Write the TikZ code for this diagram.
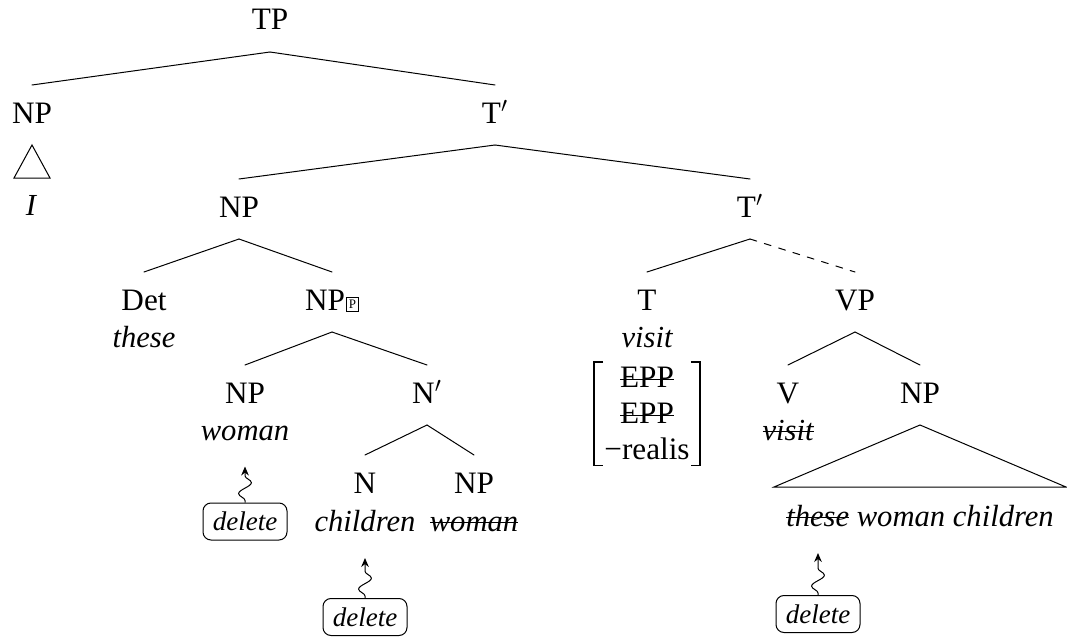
\documentclass[tikz,border=0pt]{standalone}
\usepackage{fontspec}
\setmainfont{Liberation Serif}
\usetikzlibrary{decorations.pathmorphing,arrows.meta}

% struck-through text
\newsavebox\strikebox
\newcommand\strike[1]{\sbox\strikebox{#1}\rlap{\usebox\strikebox}\rule[0.55ex]{\wd\strikebox}{0.45pt}}
% small framed P after a phrase label
\newcommand\boxedp{\raisebox{0.6pt}{\setlength\fboxsep{1pt}\setlength\fboxrule{0.4pt}\fbox{\fontsize{6.5}{7}\selectfont P}}}
% branch from a mother label down to a daughter label
\newcommand\treeedge[3][]{\draw[branch,#1] ([yshift=-11pt]#2.base) -- ([yshift=19pt]#3.base);}

\tikzset{
  lab/.style={inner sep=0pt, anchor=base, font=\fontsize{15.6}{18}\selectfont},
  word/.style={lab, font=\fontsize{15.3}{18}\selectfont\itshape},
  branch/.style={line width=0.5pt, line cap=round},
  elided/.style={dash pattern=on 3.5pt off 4pt},
  bracket/.style={line width=0.6pt},
  delbox/.style={draw, line width=0.5pt, rounded corners=4pt, minimum width=42pt,
    minimum height=18.5pt, inner sep=0pt, font=\fontsize{13.5}{15}\selectfont\itshape},
  delarrow/.style={line width=0.5pt, decorate,
    decoration={snake, amplitude=3.2pt, segment length=11pt, pre length=1pt, post length=4pt},
    -{Stealth[length=4.5pt,width=3.8pt]}}
}

\begin{document}
\begin{tikzpicture}[x=0.5pt,y=-0.5pt]
\useasboundingbox (0,0) rectangle (1067,637);

% category labels
\node[lab] (tp)  at (270,30)  {TP};
\node[lab] (np1) at (32,123)  {NP};
\node[lab] (tb1) at (495,123) {T$'$};
\node[lab] (np2) at (239,217) {NP};
\node[lab] (tb2) at (750,217) {T$'$};
\node[lab] (det) at (144,310) {Det};
\node[lab] (npp) at (332,310) {NP\kern0.6pt\boxedp};
\node[lab] (tt)  at (647,310) {T};
\node[lab] (vp)  at (855,310) {VP};
\node[lab] (np3) at (245,403) {NP};
\node[lab] (nb)  at (427,403) {N$'$};
\node[lab] (vv)  at (788,403) {V};
\node[lab] (np4) at (920,403) {NP};
\node[lab] (nn)  at (365,493) {N};
\node[lab] (np5) at (474,493) {NP};

% lexical material
\node[word] (wi)       at (31,215)  {I};
\node[word] (wthese)   at (144,347) {these};
\node[word] (wvisit)   at (647,347) {visit};
\node[word] (wwoman)   at (245,440) {woman};
\node[word] (wvisitx)  at (788,440) {\strike{visit}};
\node[word] (wchild)   at (365,531) {children};
\node[word] (wwomanx)  at (474,531) {\strike{woman}};
\node[word] (wphrase)  at (920,526) {\strike{these} woman children};

% feature matrix under T
\node[lab, anchor=north, align=center, inner xsep=5pt, inner ysep=2.5pt] (feat) at (647,362)
  {\strike{EPP}\\\strike{EPP}\\−realis};
\draw[bracket] ([xshift=4.5pt]feat.north west) -- (feat.north west)
  -- (feat.south west) -- ([xshift=4.5pt]feat.south west);
\draw[bracket] ([xshift=-4.5pt]feat.north east) -- (feat.north east)
  -- (feat.south east) -- ([xshift=-4.5pt]feat.south east);

% branches
\treeedge{tp}{np1}
\treeedge{tp}{tb1}
\treeedge{tb1}{np2}
\treeedge{tb1}{tb2}
\treeedge{np2}{det}
\treeedge{np2}{npp}
\treeedge{tb2}{tt}
\treeedge[elided]{tb2}{vp}
\treeedge{npp}{np3}
\treeedge{npp}{nb}
\treeedge{vp}{vv}
\treeedge{vp}{np4}
\treeedge{nb}{nn}
\treeedge{nb}{np5}

% roof triangles
\draw[branch, line join=miter] ([yshift=-11pt]np1.base) -- ++(-9pt,-16.5pt) -- ++(18pt,0) -- cycle;
\draw[branch, line join=miter] ([yshift=-11pt]np4.base) -- ++(-73pt,-31pt) -- ++(146pt,0) -- cycle;

% deletion operations
\node[delbox] (del1) at (245,521.5) {delete};
\node[delbox] (del2) at (365,617)   {delete};
\node[delbox] (del3) at (818,614)   {delete};
\draw[delarrow] (del1.north) -- ++(0,-36);
\draw[delarrow] (del2.north) -- ++(0,-40);
\draw[delarrow] (del3.north) -- ++(0,-42);
\end{tikzpicture}
\end{document}
